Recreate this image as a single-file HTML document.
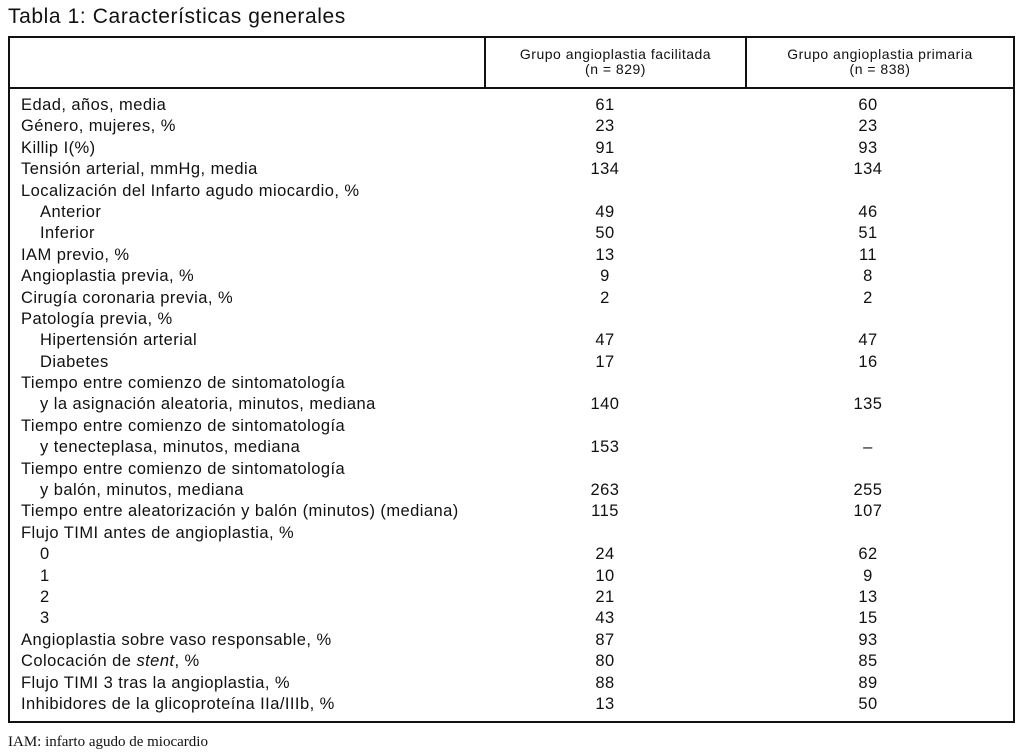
<!DOCTYPE html><html><head><meta charset="utf-8"><style>
body{margin:0;width:1024px;height:754px;background:#fff;position:relative;font-family:"Liberation Sans",sans-serif;color:#111;overflow:hidden}
.a{position:absolute;white-space:nowrap}
.r{position:absolute;left:0;width:1024px;height:21px;font-size:16.5px;line-height:21px;letter-spacing:0.45px}
.r span{position:absolute}
.l{left:21px}.i{left:40px}
.c1{left:545px;width:120px;text-align:center}
.c2{left:808px;width:120px;text-align:center}
</style></head><body>
<div class="a" style="left:8px;top:5px;font-size:21px;letter-spacing:0.6px">Tabla 1: Características generales</div>
<div class="a" style="left:8px;top:36px;width:1003px;height:683px;border:2px solid #111"></div>
<div class="a" style="left:8px;top:87px;width:1006px;height:2px;background:#111"></div>
<div class="a" style="left:484px;top:36px;width:2px;height:52px;background:#111"></div>
<div class="a" style="left:745px;top:36px;width:2px;height:52px;background:#111"></div>
<div class="a" style="left:486px;top:47px;width:259px;text-align:center;font-size:14px;line-height:15px;letter-spacing:0.5px">Grupo angioplastia facilitada<br>(n = 829)</div>
<div class="a" style="left:747px;top:47px;width:266px;text-align:center;font-size:14px;line-height:15px;letter-spacing:0.5px">Grupo angioplastia primaria<br>(n = 838)</div>
<div id="rows"></div>
<div class="a" style="left:8px;top:734px;font-family:'Liberation Serif',serif;font-size:15px">IAM: infarto agudo de miocardio</div>
<script>
var d=[["l","Edad, años, media","61","60"],["l","Género, mujeres, %","23","23"],["l","Killip I(%)","91","93"],["l","Tensión arterial, mmHg, media","134","134"],["l","Localización del Infarto agudo miocardio, %","",""],["i","Anterior","49","46"],["i","Inferior","50","51"],["l","IAM previo, %","13","11"],["l","Angioplastia previa, %","9","8"],["l","Cirugía coronaria previa, %","2","2"],["l","Patología previa, %","",""],["i","Hipertensión arterial","47","47"],["i","Diabetes","17","16"],["l","Tiempo entre comienzo de sintomatología","",""],["i","y la asignación aleatoria, minutos, mediana","140","135"],["l","Tiempo entre comienzo de sintomatología","",""],["i","y tenecteplasa, minutos, mediana","153","–"],["l","Tiempo entre comienzo de sintomatología","",""],["i","y balón, minutos, mediana","263","255"],["l","Tiempo entre aleatorización y balón (minutos) (mediana)","115","107"],["l","Flujo TIMI antes de angioplastia, %","",""],["i","0","24","62"],["i","1","10","9"],["i","2","21","13"],["i","3","43","15"],["l","Angioplastia sobre vaso responsable, %","87","93"],["l","Colocación de <i>stent</i>, %","80","85"],["l","Flujo TIMI 3 tras la angioplastia, %","88","89"],["l","Inhibidores de la glicoproteína IIa/IIIb, %","13","50"]];
var h="";d.forEach(function(x,k){var t=95+k*21.39;h+='<div class="r" style="top:'+t+'px"><span class="'+x[0]+'">'+x[1]+'</span><span class="c1">'+x[2]+'</span><span class="c2">'+x[3]+'</span></div>';});
document.getElementById("rows").innerHTML=h;
</script></body></html>
